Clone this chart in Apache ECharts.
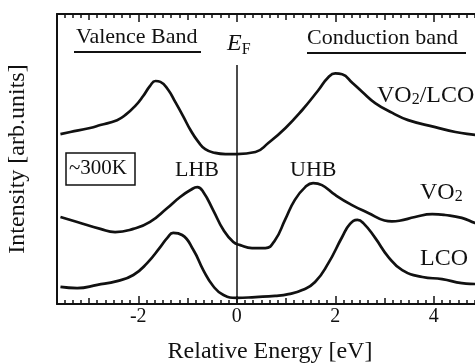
<!DOCTYPE html>
<html><head><meta charset="utf-8">
<script src="https://cdn.jsdelivr.net/npm/echarts@6/dist/echarts.min.js"></script>
<style>html,body{margin:0;padding:0;background:#fff}#c{width:475px;height:363px}</style>
</head><body><div id="c"></div>
<script>
// ---- data (energy in eV, intensity in arb. units) ----
const energyVO2LCO = [-3.58,-3.38,-2.98,-2.77,-2.43,-2.26,-2.06,-1.9,-1.76,-1.65,-1.55,-1.39,-1.25,-1.09,-0.94,-0.78,-0.64,-0.44,-0.23,0,0.38,0.64,0.99,1.33,1.66,1.86,2.0,2.14,2.35,2.55,2.81,3.16,3.48,4.03,4.44,4.84,5.0];
const intensityVO2LCO = [5.86,5.93,6.07,6.17,6.34,6.52,6.83,7.17,7.52,7.69,7.66,7.38,6.97,6.48,6.0,5.59,5.34,5.21,5.17,5.17,5.24,5.55,6.07,6.69,7.38,7.82,7.95,7.92,7.62,7.31,6.93,6.59,6.34,6.10,5.93,5.83,5.79];
const energyVO2 = [-3.58,-3.24,-2.77,-2.47,-2.10,-1.76,-1.41,-1.15,-0.94,-0.80,-0.68,-0.48,-0.27,-0.07,0.07,0.31,0.58,0.78,0.98,1.18,1.39,1.55,1.73,2.0,2.34,2.67,3.0,3.15,3.3,3.62,3.97,4.23,4.57,4.84,5.0];
const intensityVO2 = [3.0,2.83,2.59,2.48,2.59,2.83,3.31,3.69,3.93,4.03,3.86,3.24,2.55,2.14,2.03,1.93,1.93,2.21,2.90,3.59,4.03,4.17,4.10,3.76,3.41,3.14,2.88,2.85,2.87,3.0,3.10,3.07,2.97,2.79,2.72];
const energyLCO = [-3.58,-3.24,-2.83,-2.43,-2.10,-1.82,-1.55,-1.41,-1.29,-1.11,-0.88,-0.68,-0.48,-0.27,0,0.38,0.78,1.05,1.33,1.59,1.86,2.14,2.30,2.45,2.57,2.81,3.08,3.36,3.77,4.17,4.57,4.84,5.0];
const intensityLCO = [0.59,0.55,0.66,0.79,1.0,1.41,1.97,2.28,2.45,2.38,1.86,1.17,0.62,0.31,0.21,0.24,0.28,0.34,0.48,0.76,1.41,2.31,2.76,2.90,2.79,2.28,1.62,1.17,0.93,0.86,0.72,0.69,0.68];
const xTickLabelValues = [-2, 0, 2, 4];
const xMidTickValues = [-3, -1, 1, 3, 5];
const xMinorStep = 1 / 6;
const fermiLine = [[0, 8.24], [0, 0]];
const xMin = -3.65, xMax = 5.0, yMin = 0, yMax = 10;

const FONT = "'Liberation Serif','DejaVu Serif',serif";
const INK = '#111';
const zip = (a, b) => a.map((v, i) => [v, b[i]]);
const minorTickValues = [];
for (let k = Math.ceil(xMin / xMinorStep); k * xMinorStep <= xMax + 1e-9; k++) minorTickValues.push(+(k * xMinorStep).toFixed(6));

function tickAxis(pos, values, len, showLine, showLabel) {
  return {
    type: 'value', position: pos, min: xMin, max: xMax,
    axisLine: { show: showLine, onZero: false, lineStyle: { color: INK, width: 2 } },
    axisTick: { show: true, inside: true, length: len, customValues: values, lineStyle: { color: INK, width: 1.5 } },
    splitLine: { show: false },
    axisLabel: showLabel ? {
      show: true, color: INK, fontFamily: FONT, fontSize: 20, margin: 3,
      customValues: xTickLabelValues, formatter: v => String(v)
    } : { show: false },
    name: showLabel ? 'Relative Energy [eV]' : '',
    nameLocation: 'middle', nameGap: 36,
    nameTextStyle: { color: INK, fontFamily: FONT, fontSize: 24 }
  };
}

const chart = echarts.init(document.getElementById('c'), null, { renderer: 'canvas' });
const lineSeries = (name, xs, ys) => ({
  name, type: 'line', xAxisIndex: 0, yAxisIndex: 0, data: zip(xs, ys),
  showSymbol: false, smooth: 0.5, clip: true,
  lineStyle: { color: INK, width: 2.7 }
});
const s3 = lineSeries('LCO', energyLCO, intensityLCO);
s3.markLine = {
  silent: true, symbol: 'none', label: { show: false },
  lineStyle: { color: INK, width: 1.5, type: 'solid' },
  data: [[{ coord: fermiLine[0] }, { coord: fermiLine[1] }]]
};

chart.setOption({
  animation: false,
  grid: { left: 57, top: 14, width: 426, height: 290, containLabel: false, outerBoundsMode: 'none' },
  xAxis: [
    tickAxis('bottom', xTickLabelValues, 8, true, true),
    tickAxis('bottom', xMidTickValues, 6, false, false),
    tickAxis('bottom', minorTickValues, 4, false, false),
    tickAxis('top', xTickLabelValues, 8, true, false),
    tickAxis('top', xMidTickValues, 6, false, false),
    tickAxis('top', minorTickValues, 4, false, false)
  ],
  yAxis: [{
    type: 'value', min: yMin, max: yMax,
    axisLine: { show: true, onZero: false, lineStyle: { color: INK, width: 2 } },
    axisTick: { show: false }, axisLabel: { show: false }, splitLine: { show: false },
    name: 'Intensity [arb.units]', nameLocation: 'middle', nameRotate: 90, nameGap: 27,
    nameTextStyle: { color: INK, fontFamily: FONT, fontSize: 24 }
  }],
  series: [
    lineSeries('VO2/LCO', energyVO2LCO, intensityVO2LCO),
    lineSeries('VO2', energyVO2, intensityVO2),
    s3
  ],
  graphic: [
    { type: 'text', left: 76, top: 26, style: { text: 'Valence Band', font: `22px ${FONT}`, fill: INK } },
    { type: 'line', shape: { x1: 74, y1: 52, x2: 201, y2: 52 }, style: { stroke: INK, lineWidth: 2 } },
    { type: 'text', left: 307, top: 27, style: { text: 'Conduction band', font: `22px ${FONT}`, fill: INK } },
    { type: 'line', shape: { x1: 307, y1: 53, x2: 466, y2: 53 }, style: { stroke: INK, lineWidth: 2 } },
    { type: 'text', left: 227, top: 32, style: {
        text: '{e|E}{f|F}', fill: INK,
        rich: { e: { font: `italic 24px ${FONT}`, fill: INK }, f: { font: `16px ${FONT}`, fill: INK, padding: [12, 0, 0, 0] } }
    } },
    { type: 'rect', shape: { x: 66, y: 153, width: 69, height: 32 }, style: { fill: 'none', stroke: INK, lineWidth: 1.5 } },
    { type: 'text', left: 69, top: 158, style: { text: '~300K', font: `21px ${FONT}`, fill: INK } },
    { type: 'text', left: 175, top: 159, style: { text: 'LHB', font: `22px ${FONT}`, fill: INK } },
    { type: 'text', left: 290, top: 159, style: { text: 'UHB', font: `22px ${FONT}`, fill: INK } },
    { type: 'text', left: 377, top: 84, style: {
        text: '{n|VO}{s|2}{n|/LCO}', fill: INK,
        rich: { n: { font: `24px ${FONT}`, fill: INK }, s: { font: `16px ${FONT}`, fill: INK, padding: [7, 0, 0, 0] } }
    } },
    { type: 'text', left: 420, top: 181, style: {
        text: '{n|VO}{s|2}', fill: INK,
        rich: { n: { font: `24px ${FONT}`, fill: INK }, s: { font: `16px ${FONT}`, fill: INK, padding: [7, 0, 0, 0] } }
    } },
    { type: 'text', left: 420, top: 247, style: { text: 'LCO', font: `24px ${FONT}`, fill: INK } }
  ]
});
</script></body></html>
